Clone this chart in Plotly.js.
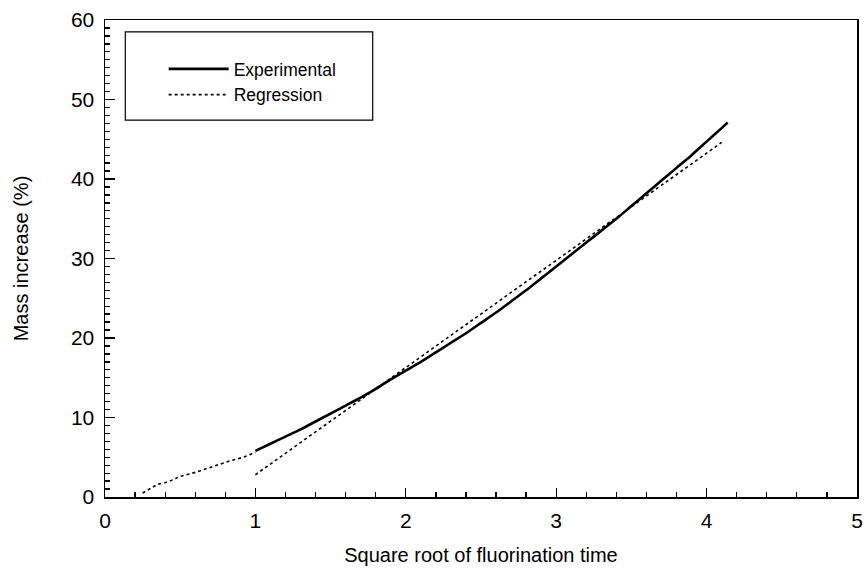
<!DOCTYPE html>
<html>
<head>
<meta charset="utf-8">
<script src="https://cdn.plot.ly/plotly-3.0.1.min.js"></script>
<style>html,body{margin:0;padding:0;background:#fff;}#chart{width:864px;height:570px;}</style>
</head>
<body>
<div id="chart"></div>
<script>
// Experimental data (sparse early part, drawn dotted)
const expEarlyX = [0.25, 0.3, 0.35, 0.42, 0.5, 0.56, 0.62, 0.68, 0.76, 0.84, 0.92, 1.0];
const expEarlyY = [0.5, 1.1, 1.6, 1.9, 2.6, 2.9, 3.2, 3.6, 4.1, 4.6, 5.0, 5.6];
// Experimental data (dense part, solid)
const expX = [1.0, 1.1, 1.2, 1.3, 1.4, 1.5, 1.6, 1.7, 1.8, 1.9, 2.0, 2.1, 2.2, 2.3, 2.4, 2.5, 2.6, 2.7, 2.8, 2.9, 3.0, 3.1, 3.2, 3.3, 3.4, 3.5, 3.6, 3.7, 3.8, 3.9, 4.0, 4.1, 4.14];
const expY = [5.8, 6.7, 7.6, 8.5, 9.5, 10.5, 11.5, 12.5, 13.6, 14.8, 15.9, 17.0, 18.2, 19.4, 20.6, 21.9, 23.2, 24.6, 26.0, 27.5, 29.0, 30.5, 32.0, 33.5, 35.0, 36.6, 38.2, 39.8, 41.4, 43.0, 44.7, 46.4, 47.1];
// Regression line
const regX = [1.0, 4.1];
const regY = [2.8, 44.6];

const traces = [
  {x: expX, y: expY, type: 'scatter', mode: 'lines', name: 'Experimental',
   line: {color: '#000', width: 2.6, shape: 'spline', smoothing: 0.6}},
  {x: regX, y: regY, type: 'scatter', mode: 'lines', name: 'Regression',
   line: {color: '#000', width: 1.6, dash: 'dot'}},
  {x: expEarlyX, y: expEarlyY, type: 'scatter', mode: 'lines', name: 'Experimental (early)',
   showlegend: false, line: {color: '#000', width: 1.6, dash: 'dot'}}
];

const ff = 'Liberation Sans, Arial, Helvetica, sans-serif';

const layout = {
  width: 864, height: 570,
  margin: {l: 105, r: 7, t: 20, b: 73},
  paper_bgcolor: '#fff', plot_bgcolor: '#fff',
  font: {family: ff, color: '#000'},
  showlegend: true,
  legend: {x: 0.078, y: 0.935, xanchor: 'left', yanchor: 'top',
           bgcolor: 'rgba(0,0,0,0)', borderwidth: 0,
           font: {family: ff, size: 17.5, color: '#000'},
           itemwidth: 60, tracegroupgap: 0},
  xaxis: {range: [0, 5], dtick: 1, tick0: 0, showgrid: false, zeroline: false,
          showline: true, linecolor: '#000', linewidth: 1.5, mirror: true,
          ticks: 'inside', ticklen: 9, tickwidth: 1.3, tickcolor: '#000',
          minor: {dtick: 0.2, ticks: 'inside', ticklen: 5, tickwidth: 1.3, tickcolor: '#000', showgrid: false},
          tickfont: {family: ff, size: 21, color: '#000'},
          ticklabelstandoff: 4,
          title: {text: 'Square root of fluorination time', font: {family: ff, size: 20, color: '#000'}, standoff: 17}},
  yaxis: {range: [0, 60], dtick: 10, tick0: 0, showgrid: false, zeroline: false,
          showline: true, linecolor: '#000', linewidth: 1.5, mirror: true,
          ticks: 'inside', ticklen: 10, tickwidth: 1.3, tickcolor: '#000',
          minor: {dtick: 1, ticks: 'inside', ticklen: 5, tickwidth: 1.3, tickcolor: '#000', showgrid: false},
          tickfont: {family: ff, size: 21, color: '#000'},
          ticklabelstandoff: 5,
          title: {text: 'Mass increase (%)', font: {family: ff, size: 20, color: '#000'}, standoff: 37}},
  shapes: [
    {type: 'rect', xref: 'paper', yref: 'paper', x0: 0.027, x1: 0.356, y0: 0.790, y1: 0.975,
     line: {color: '#000', width: 1.2}, fillcolor: 'rgba(0,0,0,0)'}
  ]
};

Plotly.newPlot('chart', traces, layout, {displayModeBar: false, staticPlot: true});
</script>
</body>
</html>
